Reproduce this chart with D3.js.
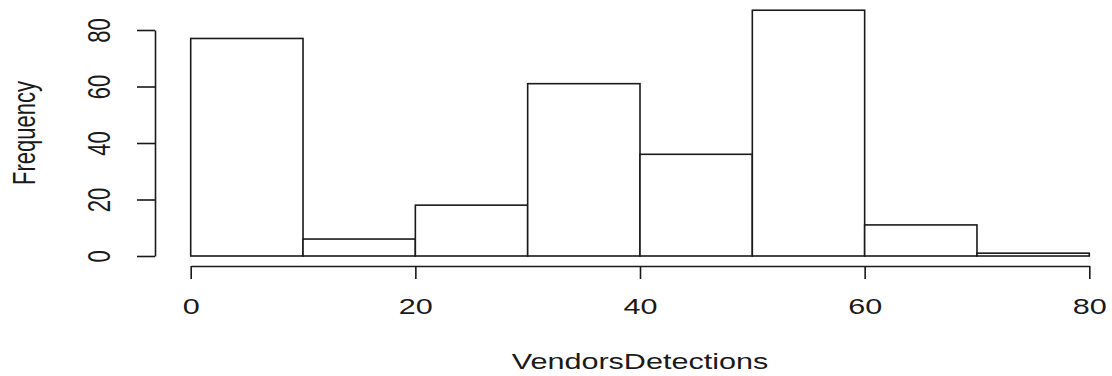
<!DOCTYPE html>
<html>
<head>
<meta charset="utf-8">
<script src="https://cdn.jsdelivr.net/npm/d3@7"></script>
<style>
  html, body { margin: 0; padding: 0; background: #fff; }
  svg { display: block; }
  text { font-family: "Liberation Sans", Arial, sans-serif; fill: #1a1a1a; }
</style>
</head>
<body>
<svg id="chart" width="1112" height="376"></svg>
<script>
//

const binEdges = [0, 10, 20, 30, 40, 50, 60, 70, 80]
const counts = [77, 6, 18, 61, 36, 87, 11, 1]
const xTicks = [0, 20, 40, 60, 80]
const yTicks = [0, 20, 40, 60, 80]
const xTitle = 'VendorsDetections'
const yTitle = 'Frequency'

//

const stretch = 1.39 // the picture is wider than it is tall
const fontSize = 22
const ink = '#1a1a1a'

const svg = d3.select('#chart')

const x = d3.scaleLinear().domain([0, 80]).range([190.7, 1089.3])
const y = d3.scaleLinear().domain([0, 80]).range([256, 30])

const bins = counts.map((c, i) => ({x0: binEdges[i], x1: binEdges[i + 1], count: c}))

// bars
svg.append('g')
  .selectAll('rect')
  .data(bins)
  .join('rect')
  .attr('x', (d) => x(d.x0))
  .attr('y', (d) => y(d.count))
  .attr('width', (d) => x(d.x1) - x(d.x0))
  .attr('height', (d) => y(0) - y(d.count))
  .attr('fill', '#fff')
  .attr('stroke', ink)
  .attr('stroke-width', 1.6)

// x axis
const xAxis = d3.axisBottom(x)
  .tickValues(xTicks)
  .tickSize(13)
  .tickSizeOuter(0)
  .tickFormat(d3.format('d'))

const gx = svg.append('g')
  .attr('transform', 'translate(0,266)')
  .call(xAxis)

gx.select('.domain').attr('stroke', ink).attr('stroke-width', 1.6)
gx.selectAll('.tick line').attr('stroke', ink).attr('stroke-width', 1.6)
gx.selectAll('.tick text')
  .attr('y', 0)
  .attr('dy', 0)
  .attr('font-size', fontSize)
  .attr('text-anchor', 'middle')
  .attr('transform', `translate(0,48) scale(${stretch},1)`)
  .style('fill', ink)

// y axis
const yAxis = d3.axisLeft(y)
  .tickValues(yTicks)
  .tickSize(18)
  .tickSizeOuter(0)
  .tickFormat(d3.format('d'))

const gy = svg.append('g')
  .attr('transform', 'translate(155,0)')
  .call(yAxis)

gy.select('.domain').attr('stroke', ink).attr('stroke-width', 1.6)
gy.selectAll('.tick line').attr('stroke', ink).attr('stroke-width', 1.6)
gy.selectAll('.tick text')
  .attr('x', 0)
  .attr('dy', 0)
  .attr('font-size', fontSize)
  .attr('text-anchor', 'middle')
  .attr('transform', `translate(-45,0) scale(${stretch},1) rotate(-90)`)
  .style('fill', ink)

// titles
svg.append('text')
  .attr('transform', `translate(${(x(0) + x(80)) / 2},369) scale(${stretch},1)`)
  .attr('text-anchor', 'middle')
  .attr('font-size', fontSize)
  .text(xTitle)

svg.append('text')
  .attr('transform', `translate(35,133) scale(${stretch},1) rotate(-90)`)
  .attr('text-anchor', 'middle')
  .attr('font-size', fontSize)
  .text(yTitle)
</script>
</body>
</html>
